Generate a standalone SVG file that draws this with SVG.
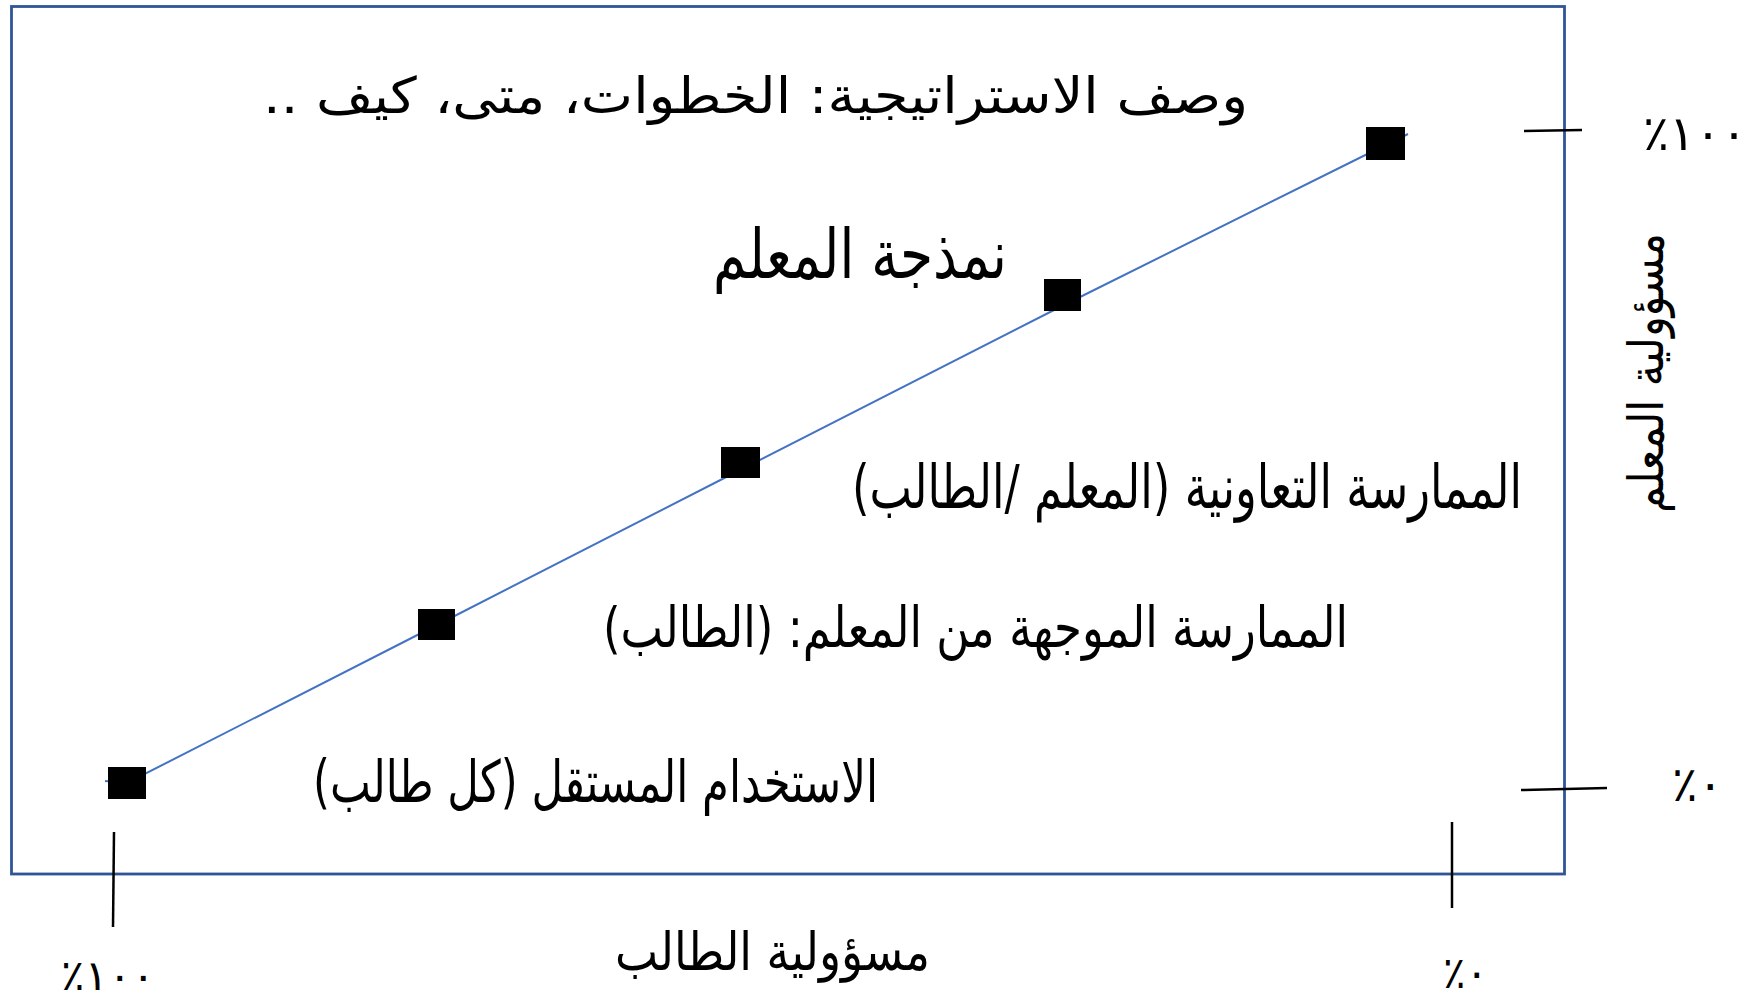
<svg xmlns="http://www.w3.org/2000/svg" width="1750" height="1002" viewBox="0 0 1750 1002">
<style>
.ar{font-family:"DejaVu Sans","Noto Sans",sans-serif;fill:#000;direction:rtl;text-anchor:middle}
.num{font-family:"DejaVu Sans","Noto Sans",sans-serif;fill:#000;text-anchor:middle}
.tick{stroke:#000;stroke-width:2.5;fill:none}
.pt{fill:#000}
</style>
<rect width="1750" height="1002" fill="#fff"/>
<g id="frame">
<rect x="11.5" y="6.5" width="1553" height="867.5" fill="none" stroke="#2F5597" stroke-width="2.8"/>
</g>
<g id="connectors">
<polyline points="105,781 127,783 437,625 740,470 1062,306 1385.5,145 1408,134" fill="none" stroke="#4472C4" stroke-width="2"/>
</g>
<g id="ticks">
<line class="tick" x1="1524" y1="131" x2="1582" y2="130"/>
<line class="tick" x1="1521" y1="790" x2="1607" y2="788"/>
<line class="tick" x1="1452" y1="822" x2="1452" y2="908"/>
<line class="tick" x1="114" y1="832" x2="113" y2="927"/>
</g>
<g id="node-1"><rect class="pt" x="108" y="767" width="38" height="32"/></g>
<g id="node-2"><rect class="pt" x="418" y="609" width="37" height="31"/></g>
<g id="node-3"><rect class="pt" x="721" y="447" width="39" height="31"/></g>
<g id="node-4"><rect class="pt" x="1044" y="279" width="37" height="32"/></g>
<g id="node-5"><rect class="pt" x="1366" y="127" width="39" height="33"/></g>
<g id="labels">
<text class="ar" x="755.5" y="113" font-size="50" textLength="985" lengthAdjust="spacingAndGlyphs">وصف الاستراتيجية: الخطوات، متى، كيف ..</text>
<text class="ar" x="860" y="278" font-size="68" textLength="294" lengthAdjust="spacingAndGlyphs">نمذجة المعلم</text>
<text class="ar" x="1187" y="508" font-size="60" textLength="670" lengthAdjust="spacingAndGlyphs">الممارسة التعاونية (المعلم /الطالب)</text>
<text class="ar" x="975.5" y="647" font-size="56" textLength="745" lengthAdjust="spacingAndGlyphs">الممارسة الموجهة من المعلم: (الطالب)</text>
<text class="ar" x="595.5" y="802" font-size="58" textLength="565" lengthAdjust="spacingAndGlyphs">الاستخدام المستقل (كل طالب)</text>
<text class="ar" x="772.5" y="970" font-size="53" textLength="315" lengthAdjust="spacingAndGlyphs">مسؤولية الطالب</text>
<text class="ar" transform="translate(1663,373) rotate(-90)" x="0" y="0" font-size="49" textLength="280" lengthAdjust="spacingAndGlyphs">مسؤولية المعلم</text>
<text class="num" x="1695" y="150" font-size="48" textLength="104" lengthAdjust="spacingAndGlyphs">٪١٠٠</text>
<text class="num" x="1697.5" y="801" font-size="48" textLength="51" lengthAdjust="spacingAndGlyphs">٪٠</text>
<text class="num" x="1465.5" y="988" font-size="44" textLength="45" lengthAdjust="spacingAndGlyphs">٪٠</text>
<text class="num" x="108" y="990" font-size="42" textLength="94" lengthAdjust="spacingAndGlyphs">٪١٠٠</text>
</g>
</svg>
